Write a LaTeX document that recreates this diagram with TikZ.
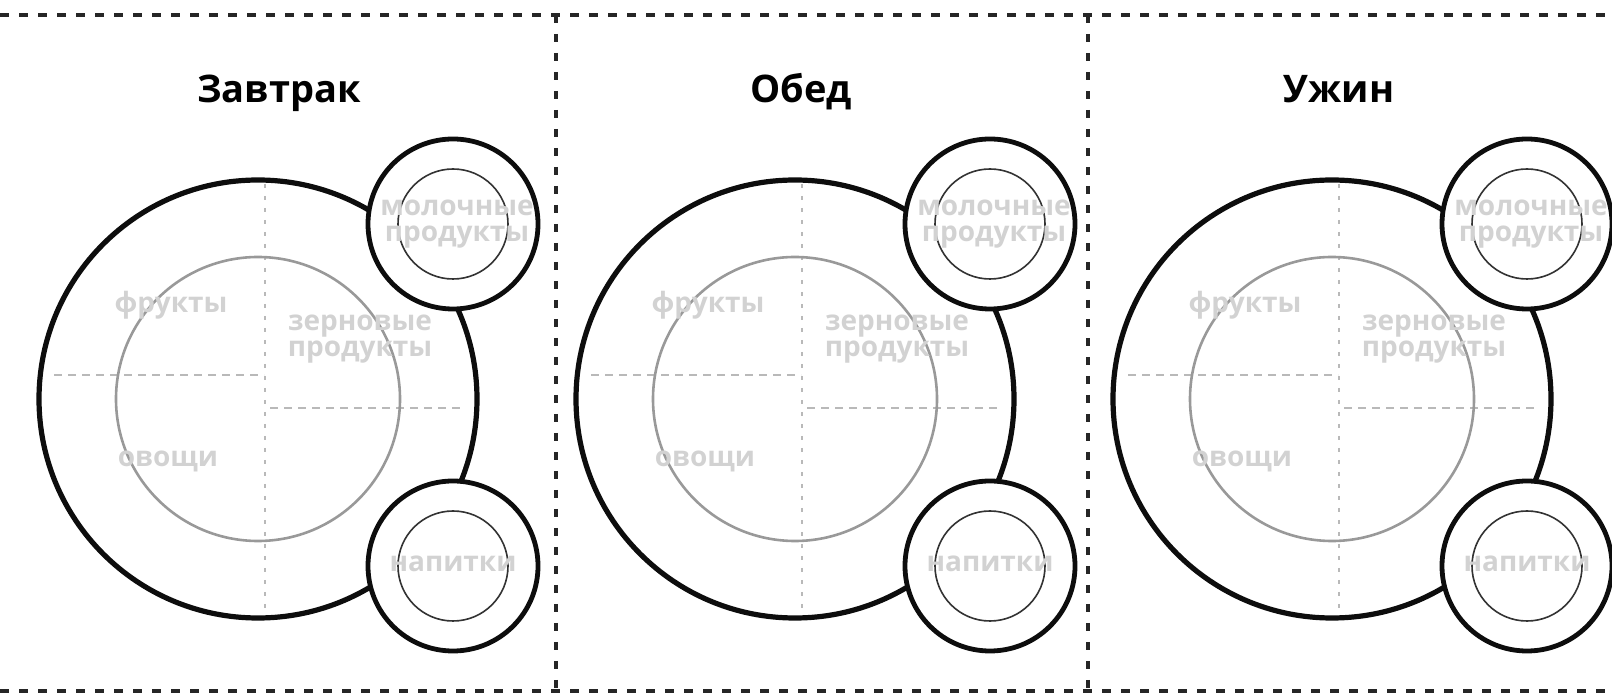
\documentclass[tikz,border=0pt]{standalone}
\usepackage{fontspec}
\setmainfont{Open Sans}

\begin{document}
\begin{tikzpicture}[x=0.5pt, y=-0.5pt,
  plate/.style={line width=2.6pt, black!95},
  rim/.style={line width=1.3pt, gray!80},
  cuth/.style={line width=1.2pt, gray!55, dash pattern=on 4pt off 3pt},
  cutv/.style={line width=1.2pt, gray!55, dash pattern=on 2pt off 4pt},
  side/.style={line width=2.4pt, black!95, fill=white},
  sideinner/.style={line width=0.8pt, black!80},
  food/.style={text=gray!35, font=\bfseries\fontsize{14}{13}\selectfont, align=center, inner sep=0pt},
  meal/.style={font=\bfseries\fontsize{19}{24}\selectfont, inner sep=0pt, anchor=base},
  frame/.style={line width=2pt, black!85, dash pattern=on 4.5pt off 5pt},
  sep/.style={line width=2pt, black!85, dash pattern=on 4pt off 5.5pt}]
\useasboundingbox (0,0) rectangle (1612,694);

% frame
\coordinate (tl) at (0,15);
\coordinate (tr) at (1612,15);
\coordinate (bl) at (0,691);
\coordinate (br) at (1612,691);
\draw[frame] (tl) -- (tr);
\draw[frame] (bl) -- (br);
\draw[sep] (556,15) coordinate (s1t) -- (556,691) coordinate (s1b);
\draw[sep] (1088,15) coordinate (s2t) -- (1088,691) coordinate (s2b);

\foreach \i/\meal/\tx in {0/Завтрак/279, 1/Обед/801, 2/Ужин/1339} {
  \pgfmathsetmacro{\o}{\i*537}
  % title
  \node[meal] (title\i) at (\tx,103) {\meal};
  % plate
  \coordinate (plate\i) at (258+\o,399);
  \draw[plate] (plate\i) circle (219);
  \draw[cutv] (265+\o,184) coordinate (vt\i) -- (265+\o,608) coordinate (vb\i);
  \draw[cuth] (54+\o,375) coordinate (hl\i) -- (264+\o,375) coordinate (hm\i);
  \draw[cuth] (270+\o,408) coordinate (hn\i) -- (464+\o,408) coordinate (hr\i);
  \draw[rim] (plate\i) circle (142);
  % side dishes
  \coordinate (milk\i) at (453+\o,224);
  \coordinate (drink\i) at (453+\o,566);
  \draw[side] (milk\i) circle (85);
  \draw[sideinner] (milk\i) circle (55);
  \draw[side] (drink\i) circle (85);
  \draw[sideinner] (drink\i) circle (55);
  % labels
  \node[food] (fruit\i) at (171+\o,305) {фрукты};
  \node[food] (grain\i) at (360+\o,339) {зерновые\\продукты};
  \node[food] (veg\i) at (168+\o,461) {овощи};
  \node[food] (dairy\i) at (457+\o,224) {молочные\\продукты};
  \node[food] (drinks\i) at (453+\o,564) {напитки};
}
\end{tikzpicture}
\end{document}
